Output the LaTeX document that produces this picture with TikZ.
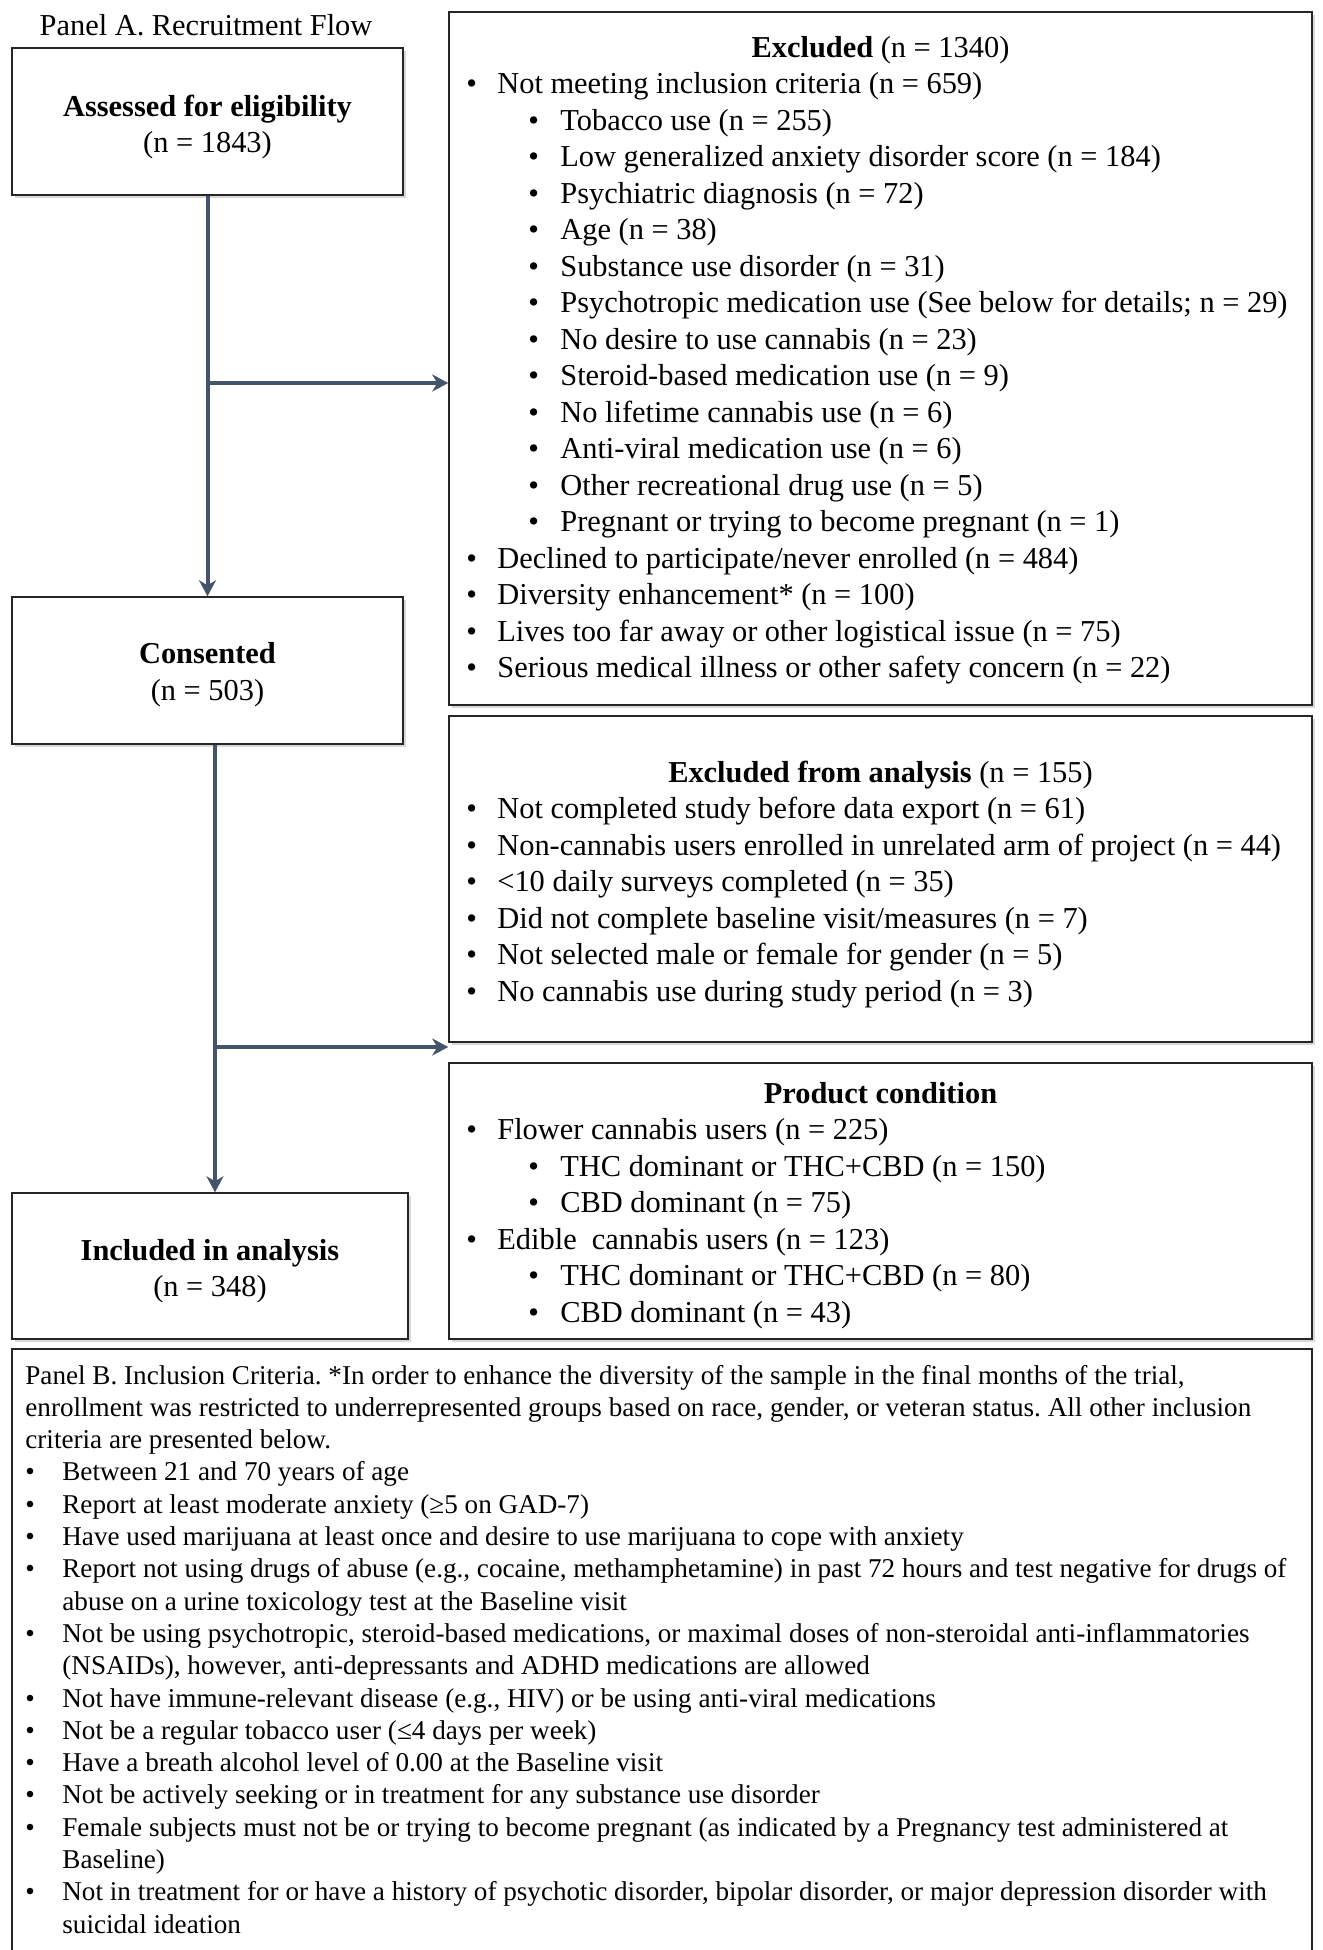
\documentclass[tikz,border=0pt]{standalone}
\usepackage{fontspec}
\setmainfont{Liberation Serif}
\usetikzlibrary{arrows.meta,shadows,fit}
\definecolor{flowc}{HTML}{44546A}
\frenchspacing
\tikzset{
 box/.style={draw=black!85, line width=0.75pt, fill=white, inner sep=0pt,
   drop shadow={opacity=0.3, shadow xshift=1.4pt, shadow yshift=-1.4pt}},
 flow/.style={draw=flowc, line width=2pt},
 flowarrow/.style={flow, -{Stealth[length=8pt,width=8.5pt,inset=2.5pt]}},
 big/.style={font=\fontsize{15.2}{18.25}\selectfont, inner sep=0pt},
 small/.style={font=\fontsize{13.57}{16.15}\selectfont, inner sep=0pt},
}
\newcommand\bul{\makebox[15.5pt][l]{•}}
\newcommand\bulb{\hspace*{31pt}\makebox[16pt][l]{•}}
\newcommand\pbul{\makebox[18.5pt][l]{•}}
\begin{document}
\begin{tikzpicture}[x=0.5pt,y=-0.5pt]
\useasboundingbox (0,0) rectangle (1323,1950);
\fill[white] (0,0) rectangle (1323,1950);

\node[big, anchor=base] (titleA) at (206,35) {Panel A. Recruitment Flow};

% left column boxes
\node[box, fit={(12,48) (403,195)}] (assess) {};
\node[box, fit={(12,597) (403,744)}] (consent) {};
\node[box, fit={(12,1193) (408,1339)}] (included) {};
\node[big, anchor=base] (assessT) at (207.5,116) {\textbf{Assessed for eligibility}};
\node[big, anchor=base] (assessN) at (207.5,152) {(n = 1843)};
\node[big, anchor=base] (consentT) at (207.5,663) {\textbf{Consented}};
\node[big, anchor=base] (consentN) at (207.5,700) {(n = 503)};
\node[big, anchor=base] (inclT) at (210,1260) {\textbf{Included in analysis}};
\node[big, anchor=base] (inclN) at (210,1296) {(n = 348)};

% right column boxes
\node[box, fit={(449,12) (1312,705)}] (excl) {};
\node[box, fit={(449,716) (1312,1042)}] (exanal) {};
\node[box, fit={(449,1063) (1312,1339)}] (product) {};

% connectors
\coordinate (br1) at (207.5,383);
\draw[flowarrow] (assess.south) -- (consent.north);
\draw[flowarrow] (br1) -- (br1 -| excl.west);
\coordinate (c2) at (215,0);
\coordinate (br2) at (215,1047);
\draw[flowarrow] (consent.south -| c2) -- (included.north -| c2);
\draw[flowarrow] (br2) -- (br2 -| exanal.west);

% Excluded text
\node[big, anchor=base] (exclH) at (880.5,57) {\textbf{Excluded} (n = 1340)};
\node[big, anchor=base west] (exclL) at (466,93.5) {\parbox[t]{600pt}{%
\bul Not meeting inclusion criteria (n = 659)\\
\bulb Tobacco use (n = 255)\\
\bulb Low generalized anxiety disorder score (n = 184)\\
\bulb Psychiatric diagnosis (n = 72)\\
\bulb Age (n = 38)\\
\bulb Substance use disorder (n = 31)\\
\bulb Psychotropic medication use (See below for details; n = 29)\\
\bulb No desire to use cannabis (n = 23)\\
\bulb Steroid-based medication use (n = 9)\\
\bulb No lifetime cannabis use (n = 6)\\
\bulb Anti-viral medication use (n = 6)\\
\bulb Other recreational drug use (n = 5)\\
\bulb Pregnant or trying to become pregnant (n = 1)\\
\bul Declined to participate/never enrolled (n = 484)\\
\bul Diversity enhancement* (n = 100)\\
\bul Lives too far away or other logistical issue (n = 75)\\
\bul Serious medical illness or other safety concern (n = 22)}};

% Excluded from analysis text
\node[big, anchor=base] (exanH) at (880.5,782) {\textbf{Excluded from analysis} (n = 155)};
\node[big, anchor=base west] (exanL) at (466,818.5) {\parbox[t]{600pt}{%
\bul Not completed study before data export (n = 61)\\
\bul Non-cannabis users enrolled in unrelated arm of project (n = 44)\\
\bul <10 daily surveys completed (n = 35)\\
\bul Did not complete baseline visit/measures (n = 7)\\
\bul Not selected male or female for gender (n = 5)\\
\bul No cannabis use during study period (n = 3)}};

% Product condition text
\node[big, anchor=base] (prodH) at (880.5,1103) {\textbf{Product condition}};
\node[big, anchor=base west] (prodL) at (466,1139.5) {\parbox[t]{600pt}{%
\bul Flower cannabis users (n = 225)\\
\bulb THC dominant or THC+CBD (n = 150)\\
\bulb CBD dominant (n = 75)\\
\bul Edible\ \ cannabis users (n = 123)\\
\bulb THC dominant or THC+CBD (n = 80)\\
\bulb CBD dominant (n = 43)}};

% Panel B
\draw[draw=black!85, line width=0.75pt] (12,1960) -- (12,1349) -- (1312,1349) -- (1312,1960);
\node[small, anchor=base west] (panelB) at (25,1384) {\parbox[t]{640pt}{%
Panel B. Inclusion Criteria. *In order to enhance the diversity of the sample in the final months of the trial,\\
enrollment was restricted to underrepresented groups based on race, gender, or veteran status. All other inclusion\\
criteria are presented below.\\
\pbul Between 21 and 70 years of age\\
\pbul Report at least moderate anxiety (≥5 on GAD-7)\\
\pbul Have used marijuana at least once and desire to use marijuana to cope with anxiety\\
\pbul Report not using drugs of abuse (e.g., cocaine, methamphetamine) in past 72 hours and test negative for drugs of\\
\hspace*{18.5pt}abuse on a urine toxicology test at the Baseline visit\\
\pbul Not be using psychotropic, steroid-based medications, or maximal doses of non-steroidal anti-inflammatories\\
\hspace*{18.5pt}(NSAIDs), however, anti-depressants and ADHD medications are allowed\\
\pbul Not have immune-relevant disease (e.g., HIV) or be using anti-viral medications\\
\pbul Not be a regular tobacco user (≤4 days per week)\\
\pbul Have a breath alcohol level of 0.00 at the Baseline visit\\
\pbul Not be actively seeking or in treatment for any substance use disorder\\
\pbul Female subjects must not be or trying to become pregnant (as indicated by a Pregnancy test administered at\\
\hspace*{18.5pt}Baseline)\\
\pbul Not in treatment for or have a history of psychotic disorder, bipolar disorder, or major depression disorder with\\
\hspace*{18.5pt}suicidal ideation}};
\end{tikzpicture}
\end{document}
